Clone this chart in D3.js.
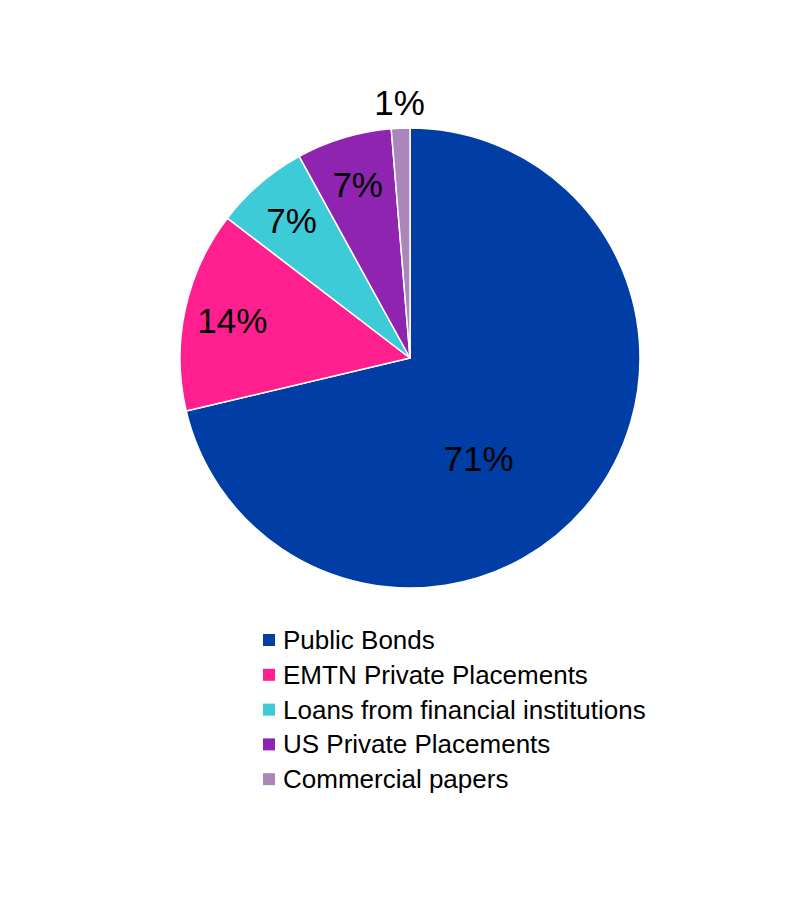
<!DOCTYPE html>
<html><head><meta charset="utf-8">
<script src="https://cdn.jsdelivr.net/npm/d3@7"></script>
<style>body{margin:0;background:#fff}svg{display:block}text{font-family:"Liberation Sans",Arial,sans-serif}</style>
</head><body>
<svg id="c" width="800" height="900"></svg>
<script>
const categories = ["Public Bonds","EMTN Private Placements","Loans from financial institutions","US Private Placements","Commercial papers"];
const values = [71.3, 14.1, 6.6, 6.7, 1.3];
const labels = ["71%","14%","7%","7%","1%"];
const colors = ["#003DA5","#FF1F8E","#3ECBD8","#8E24B0","#AB86BA"];

const svg = d3.select("#c");
const cx = 410, cy = 358, R = 230;
const g = svg.append("g").attr("transform", `translate(${cx},${cy})`);
const pie = d3.pie().sort(null).value(d => d)(values);
const arc = d3.arc().innerRadius(0).outerRadius(R);
g.selectAll("path").data(pie).join("path")
  .attr("d", arc).attr("fill", (d,i) => colors[i])
  .attr("stroke", "#fff").attr("stroke-width", 1.5).attr("stroke-linejoin","round");

function labelPos(d, i){
  let a, r;
  const span = d.endAngle - d.startAngle;
  if (span > Math.PI) { a = d.startAngle + span*0.568; r = R*0.53; }
  else if (span < 0.15) { a = (d.startAngle + d.endAngle)/2; r = R*1.11; }
  else { a = (d.startAngle + d.endAngle)/2; r = R*0.79; }
  return [r*Math.sin(a), -r*Math.cos(a)];
}
g.selectAll("text.lbl").data(pie).join("text").attr("class","lbl")
  .attr("x", (d,i) => labelPos(d,i)[0]).attr("y", (d,i) => labelPos(d,i)[1])
  .attr("text-anchor","middle").attr("dominant-baseline","central")
  .attr("font-size", 35).attr("fill","#000").text((d,i) => labels[i]);

const leg = svg.append("g").attr("transform","translate(263,640)");
const rows = leg.selectAll("g").data(categories).join("g")
  .attr("transform",(d,i)=>`translate(0,${i*34.8})`);
rows.append("rect").attr("x",0).attr("y",-6).attr("width",12).attr("height",12)
  .attr("fill",(d,i)=>colors[i]);
rows.append("text").attr("x",20).attr("y",0).attr("dominant-baseline","central")
  .attr("font-size",26).attr("fill","#000").text(d=>d);
</script>
</body></html>
